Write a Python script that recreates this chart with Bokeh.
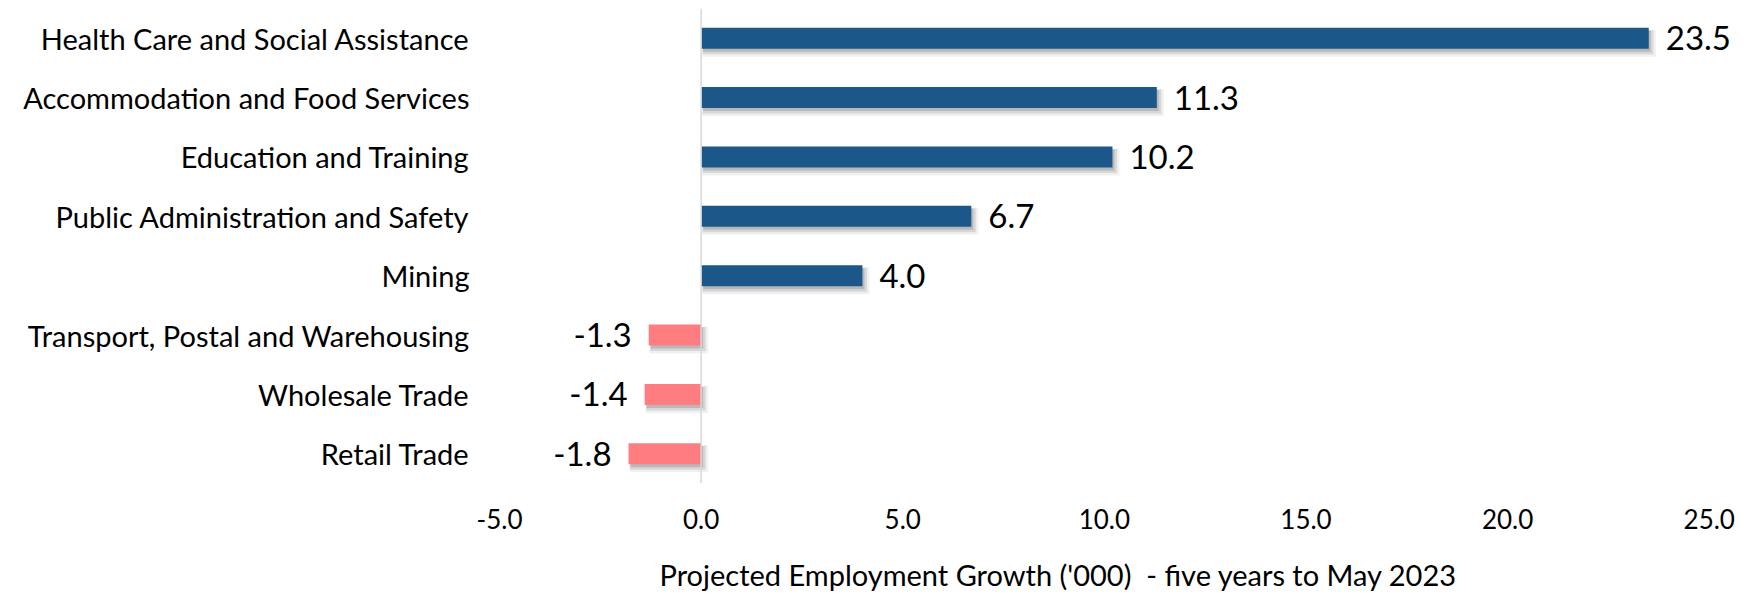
from bokeh.plotting import figure
from bokeh.models import (ColumnDataSource, FactorRange, Range1d, FixedTicker,
                          NumeralTickFormatter, Span, LinearAxis, Title)
from bokeh.transform import dodge
from bokeh.core.properties import value
from bokeh.embed import file_html
from bokeh.resources import INLINE

categories = [
    "Health Care and Social Assistance",
    "Accommodation and Food Services",
    "Education and Training",
    "Public Administration and Safety",
    "Mining",
    "Transport, Postal and Warehousing",
    "Wholesale Trade",
    "Retail Trade",
]
values = [23.5, 11.3, 10.2, 6.7, 4.0, -1.3, -1.4, -1.8]
x_ticks = [-5, 0, 5, 10, 15, 20, 25]
axis_title = "Projected Employment Growth ('000)\u00a0 - five years to May 2023"

FONT = "Lato"
BLUE = "#1B5889"
PINK = "#FF7C80"

colors = [BLUE if v >= 0 else PINK for v in values]
lefts = [min(0.0, v) for v in values]
rights = [max(0.0, v) for v in values]

src = ColumnDataSource(dict(cat=categories, val=values, left=lefts, right=rights,
                            color=colors))

p = figure(width=1739, height=592, output_backend="svg", toolbar_location=None,
           y_range=FactorRange(factors=list(reversed(categories))),
           x_range=Range1d(-5, 25.75),
           min_border_left=499, min_border_right=0, min_border_top=8,
           min_border_bottom=109)
p.outline_line_color = None
p.grid.visible = False
p.background_fill_color = "white"
p.border_fill_color = "white"

# soft shadow (several translucent layers offset right/down)
px = 1.0 / 40.33
py = 1.0 / 59.3
for dx, dy, grow, a in [(4, 5, 3, 0.06), (3, 4, 1.5, 0.10), (2, 3, 0, 0.14)]:
    sh = ColumnDataSource(dict(
        cat=categories,
        left=[l + (dx - grow) * px for l in lefts],
        right=[r + (dx + grow) * px for r in rights],
    ))
    p.hbar(y=dodge("cat", -dy * py, range=p.y_range), left="left", right="right",
           height=0.355 + 2 * grow * py, source=sh, fill_color="black",
           fill_alpha=a, line_color=None)

p.hbar(y="cat", left="left", right="right", height=0.355, source=src,
       fill_color="color", line_color=None)

p.add_layout(Span(location=0, dimension="height", line_color="#D9D9D9",
                  line_width=1.5))

pos = ColumnDataSource(dict(cat=[c for c, v in zip(categories, values) if v >= 0],
                            x=[v for v in values if v >= 0],
                            t=["%.1f" % v for v in values if v >= 0]))
neg = ColumnDataSource(dict(cat=[c for c, v in zip(categories, values) if v < 0],
                            x=[v for v in values if v < 0],
                            t=["%.1f" % v for v in values if v < 0]))
p.text(x="x", y="cat", text="t", source=pos, x_offset=17, text_align="left",
       text_baseline="middle", text_font=value(FONT), text_font_size="33px",
       text_color="black")
p.text(x="x", y="cat", text="t", source=neg, x_offset=-17, text_align="right",
       text_baseline="middle", text_font=value(FONT), text_font_size="33px",
       text_color="black")

xa = p.xaxis[0]
xa.ticker = FixedTicker(ticks=x_ticks)
xa.formatter = NumeralTickFormatter(format="0.0")
xa.axis_line_color = None
xa.major_tick_line_color = None
xa.minor_tick_line_color = None
xa.major_tick_out = 0
xa.major_tick_in = 0
xa.major_label_standoff = 25
xa.major_label_text_font = FONT
xa.major_label_text_font_size = "26px"
xa.major_label_text_color = "black"

ya = p.yaxis[0]
ya.axis_line_color = None
ya.major_tick_line_color = None
ya.minor_tick_line_color = None
ya.major_tick_out = 0
ya.major_tick_in = 0
ya.major_label_standoff = 30
ya.major_label_text_font = FONT
ya.major_label_text_font_size = "29px"
ya.major_label_text_color = "black"

# invisible spacer axis (no ticks, blank tiny label) to push the axis title down
spacer = LinearAxis(ticker=FixedTicker(ticks=[]), axis_line_color=None,
                    major_tick_line_color=None, minor_tick_line_color=None,
                    major_tick_out=0, major_tick_in=0, minor_tick_out=0,
                    major_label_standoff=0, major_label_text_font_size="0px",
                    axis_label=" ", axis_label_standoff=19,
                    axis_label_text_font_size="1px", axis_label_text_alpha=0)
p.add_layout(spacer, "below")

p.add_layout(Title(text=axis_title, align="left", offset=160, standoff=0,
                   text_font=FONT, text_font_size="29px", text_font_style="normal",
                   text_color="black"), "below")

open("out.html", "w").write(file_html(p, INLINE))
